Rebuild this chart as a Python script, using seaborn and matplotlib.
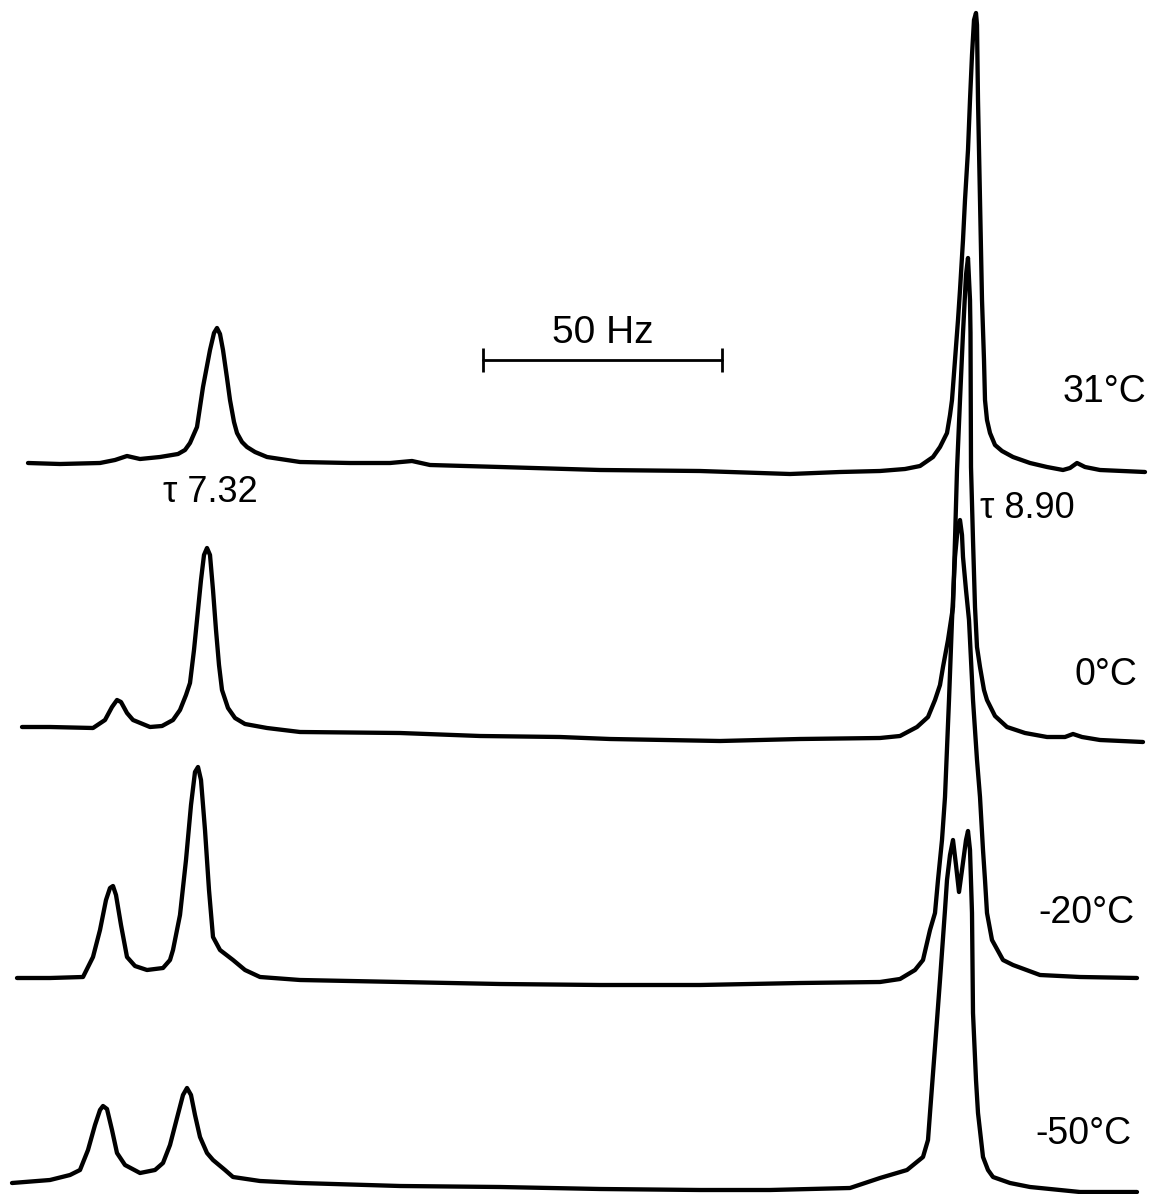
import matplotlib
matplotlib.use("Agg")
import matplotlib.pyplot as plt
import seaborn as sns

# chart-paper coordinates: x along the sweep, y = pen position (down is lower)
trace_31_x = [28, 60, 100, 115, 127, 140, 160, 178, 185, 190, 197, 203, 210, 214, 217, 220, 223, 227, 230,
              234, 237, 242, 247, 255, 267, 300, 350, 390, 412, 430, 500, 600, 700, 790, 840, 880, 905, 920,
              933, 940, 947, 950, 952, 955, 958, 960, 963, 965, 968, 970, 972, 974, 976, 977, 978, 980, 981,
              982, 984, 985, 987, 990, 995, 1002, 1013, 1030, 1047, 1063, 1070, 1077, 1085, 1100, 1145]
trace_31_y = [463, 464, 463, 460, 456, 459, 457, 454, 450, 443, 427, 387, 350, 333, 328, 334, 350, 378, 400,
              422, 433, 442, 447, 452, 457, 462, 463, 463, 461, 465, 467, 470, 471, 474, 472, 471, 469, 466,
              457, 447, 433, 415, 400, 360, 320, 290, 240, 200, 150, 100, 55, 20, 13, 25, 100, 200, 250,
              300, 360, 400, 420, 433, 445, 451, 457, 463, 467, 470, 468, 463, 467, 470, 472]

trace_0_x = [22, 50, 93, 105, 112, 117, 121, 127, 133, 150, 162, 173, 180, 186, 190, 194, 197, 201, 204,
             207, 210, 213, 216, 219, 222, 228, 235, 245, 267, 300, 400, 480, 560, 610, 720, 800, 880, 900,
             917, 928, 935, 940, 943, 948, 953, 955, 957, 960, 963, 966, 968, 970, 970.5, 971, 973, 975,
             977, 980, 984, 987, 995, 1007, 1025, 1047, 1065, 1073, 1082, 1100, 1143]
trace_0_y = [727, 727, 728, 720, 707, 700, 702, 713, 720, 727, 726, 720, 710, 695, 683, 650, 620, 580, 555,
             548, 555, 590, 630, 665, 690, 708, 718, 724, 728, 732, 733, 736, 737, 739, 741, 739, 738, 736,
             727, 717, 700, 685, 667, 640, 607, 540, 470, 400, 333, 275, 258, 300, 333, 467, 540, 607,
             647, 667, 690, 700, 716, 727, 733, 737, 737, 734, 737, 740, 742]

trace_m20_x = [17, 50, 83, 93, 100, 106, 110, 113, 116, 121, 127, 135, 147, 163, 170, 173, 180, 186, 191,
               195, 198, 201, 205, 209, 213, 220, 233, 245, 260, 300, 400, 500, 600, 700, 800, 880, 900,
               915, 923, 930, 935, 938, 942, 945, 949, 952, 955, 958, 960, 962, 963, 966, 969, 973, 977,
               980, 983, 985, 987, 992, 1003, 1013, 1040, 1080, 1137]
trace_m20_y = [978, 978, 977, 957, 930, 900, 888, 886, 895, 925, 957, 966, 970, 968, 960, 950, 915, 860, 805,
               772, 767, 780, 830, 890, 937, 950, 960, 970, 977, 980, 982, 984, 985, 985, 983, 982, 979,
               970, 960, 930, 913, 880, 840, 797, 700, 620, 557, 525, 520, 535, 557, 590, 620, 700, 760,
               797, 850, 880, 913, 940, 960, 965, 975, 977, 978]

trace_m50_x = [12, 50, 70, 80, 88, 95, 100, 103, 107, 112, 117, 125, 140, 155, 163, 170, 177, 183, 187, 191,
               195, 200, 207, 213, 225, 233, 260, 300, 400, 500, 600, 700, 770, 850, 880, 907, 923, 928,
               930, 935, 940, 945, 947, 950, 953, 956, 959, 962, 966, 968, 970, 972, 973, 976, 978, 983,
               988, 993, 1010, 1030, 1080, 1137]
trace_m50_y = [1183, 1180, 1175, 1170, 1150, 1125, 1110, 1106, 1109, 1130, 1153, 1165, 1173, 1170, 1163, 1145,
               1118, 1095, 1088, 1095, 1115, 1137, 1153, 1160, 1170, 1177, 1181, 1183, 1186, 1187, 1189, 1190,
               1190, 1188, 1178, 1170, 1157, 1140, 1113, 1047, 980, 910, 880, 855, 840, 865, 892, 870, 840,
               831, 850, 913, 1013, 1080, 1113, 1157, 1170, 1177, 1183, 1187, 1192, 1192]

temp_labels = ["31°C", "0°C", "-20°C", "-50°C"]
temp_label_x = [1104, 1106, 1086, 1083]
temp_label_y = [392, 675, 913, 1134]

shift_labels = ["τ 7.32", "τ 8.90"]
shift_label_x = [210, 1027]
shift_label_y = [493, 508]

scale_bar_x = [483, 722]
scale_bar_y = 360
scale_label = "50 Hz"

traces = [(trace_31_x, trace_31_y), (trace_0_x, trace_0_y),
          (trace_m20_x, trace_m20_y), (trace_m50_x, trace_m50_y)]

sns.set_theme(style="white")
plt.rcParams['font.family'] = ['Liberation Sans', 'DejaVu Sans']

fig = plt.figure(figsize=(11.51, 11.94), dpi=100)
ax = fig.add_axes([0, 0, 1, 1])

for tx, ty in traces:
    sns.lineplot(x=tx, y=ty, sort=False, estimator=None, color="black",
                 linewidth=3.1, ax=ax, solid_joinstyle="round", solid_capstyle="round")

# 50 Hz scale bar
ax.plot(scale_bar_x, [scale_bar_y, scale_bar_y], color="black", linewidth=2.0)
ax.vlines(scale_bar_x, scale_bar_y - 12, scale_bar_y + 12, color="black", linewidth=2.0)
ax.text(sum(scale_bar_x) / 2, scale_bar_y - 27, scale_label, ha="center", va="center",
        fontsize=28, color="black")

for lab, lx, ly in zip(temp_labels, temp_label_x, temp_label_y):
    ax.text(lx, ly, lab, ha="center", va="center", fontsize=27, color="black")

for lab, lx, ly in zip(shift_labels, shift_label_x, shift_label_y):
    ax.text(lx, ly, lab, ha="center", va="center", fontsize=26, color="black")

ax.set_xlim(0, 1151)
ax.set_ylim(1194, 0)
ax.set_axis_off()

fig.savefig("out.png", dpi=100, facecolor="white")
